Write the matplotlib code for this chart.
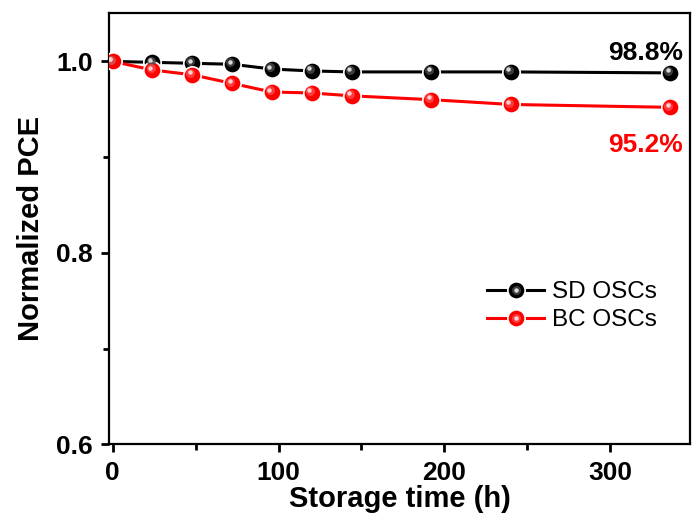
import matplotlib
matplotlib.use("Agg")
import matplotlib.pyplot as plt
import matplotlib.transforms as mtransforms
from matplotlib.ticker import MultipleLocator

plt.rcParams['font.family'] = ['Liberation Sans', 'DejaVu Sans']

# données
temps = [0, 24, 48, 72, 96, 120, 144, 192, 240, 336]
pce_sd = [1.000, 0.999, 0.998, 0.997, 0.992, 0.990, 0.989, 0.989, 0.989, 0.988]
pce_bc = [1.000, 0.991, 0.986, 0.977, 0.968, 0.967, 0.964, 0.960, 0.955, 0.952]
noms = ["SD OSCs", "BC OSCs"]
couleurs = ["black", "red"]
demi_tons = ["#4a4a4a", "#ff4a4a"]
reflets = ["#d8d8d8", "#ffd0d0"]
etiquettes = ["98.8%", "95.2%"]

fig = plt.figure(figsize=(6.92, 5.32), dpi=100)
ax = fig.add_axes([0.158, 0.165, 0.839, 0.811])

poignees = []
for serie, c, m, r in zip([pce_sd, pce_bc], couleurs, demi_tons, reflets):
    ligne, = ax.plot(temps, serie, color=c, lw=2.2, marker='o', ms=12.5,
                     mfc=c, mec='white', mew=1.2, zorder=3)
    # reflets pour imiter les billes
    decal = mtransforms.offset_copy(ax.transData, fig=fig, x=-1.3, y=1.3, units='points')
    ax.plot(temps, serie, ls='none', marker='o', ms=6.5, mfc=m, mec='none',
            alpha=0.8, transform=decal, zorder=4)
    decal2 = mtransforms.offset_copy(ax.transData, fig=fig, x=-1.8, y=1.8, units='points')
    ax.plot(temps, serie, ls='none', marker='o', ms=3.2, mfc=r, mec='none',
            transform=decal2, zorder=5)
    moyen, = ax.plot([], [], ls='none', marker='o', ms=6.5, mfc=m, mec='none', alpha=0.8)
    reflet, = ax.plot([], [], ls='none', marker='o', ms=3.2, mfc=r, mec='none')
    poignees.append((ligne, moyen, reflet))

ax.text(344, 1.0013, etiquettes[0], color=couleurs[0],
        fontsize=19, fontweight='bold', ha='right', va='baseline')
ax.text(344, 0.9053, etiquettes[1], color=couleurs[1],
        fontsize=19, fontweight='bold', ha='right', va='baseline')

ax.set_xlim(-2, 348)
ax.set_ylim(0.6, 1.0508)
ax.xaxis.set_major_locator(MultipleLocator(100))
ax.xaxis.set_minor_locator(MultipleLocator(50))
ax.yaxis.set_major_locator(MultipleLocator(0.2))
ax.yaxis.set_minor_locator(MultipleLocator(0.1))
ax.tick_params(which='both', direction='out', width=2, top=False, right=False)
ax.tick_params(which='major', length=6, labelsize=19, pad=6)
ax.tick_params(which='minor', length=4)
for t in ax.get_xticklabels() + ax.get_yticklabels():
    t.set_fontweight('bold')
for s in ax.spines.values():
    s.set_linewidth(1.6)

ax.set_xlabel("Storage time (h)", fontsize=21, fontweight='bold', labelpad=0)
ax.set_ylabel("Normalized PCE", fontsize=21, fontweight='bold', labelpad=8)

ax.legend(poignees, noms, frameon=False, fontsize=17.5, loc='center left',
          bbox_to_anchor=(0.650, 0.32), borderpad=0, borderaxespad=0,
          handlelength=2.37, handletextpad=0.3, labelspacing=0.25)

fig.savefig("out.png", dpi=100)
